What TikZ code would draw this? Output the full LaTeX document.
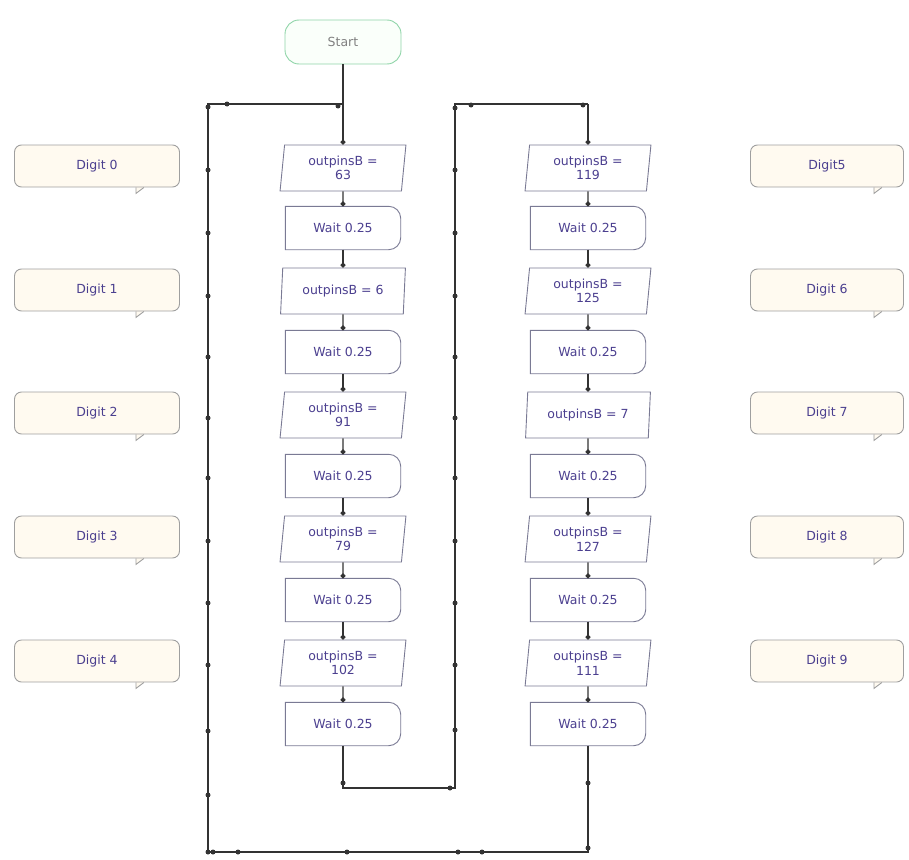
\documentclass[tikz,border=0pt]{standalone}
\usepackage{fontspec}
\setmainfont{DejaVu Sans}
\usetikzlibrary{shapes.geometric,arrows.meta}
\definecolor{txt}{HTML}{4B3F8F}
\definecolor{boxedge}{HTML}{7A7A94}
\definecolor{startedge}{HTML}{8FD4A8}
\definecolor{notefill}{HTML}{FFFAF0}
\definecolor{wire}{HTML}{333333}
\tikzset{
  boxline/.style={draw=boxedge,line width=0.9pt},
  outbox/.style={shape=trapezium,trapezium left angle=84,trapezium right angle=96,
    trapezium stretches=true,boxline,minimum width=126,minimum height=46,
    align=center,text=txt,inner sep=1pt},
  waitbox/.style={minimum width=115,minimum height=43,text=txt,
    append after command={\pgfextra{\draw[boxline] (\tikzlastnode.north west)
      -- ([xshift=-12pt]\tikzlastnode.north east) arc[start angle=90,end angle=0,radius=12pt]
      -- ([yshift=12pt]\tikzlastnode.south east) arc[start angle=0,end angle=-90,radius=12pt]
      -- (\tikzlastnode.south west) -- cycle;}}},
  comment/.style={draw=gray!75,line width=0.9pt,fill=notefill,rounded corners=7pt,
    minimum height=42,text=txt,
    append after command={\pgfextra{
      \fill[notefill] ([xshift=-#1,yshift=1pt]\tikzlastnode.south east) -- ++(0,-7pt) -- ++(8pt,7pt) -- cycle;
      \draw[gray!75,line width=0.9pt] ([xshift=-#1]\tikzlastnode.south east) -- ++(0,-6pt) -- ++(8pt,6pt);}}},
  wireline/.style={draw=wire,line width=1.1pt},
  link/.style={wireline,-{Circle[length=5pt]}}
}
\begin{document}
\begin{tikzpicture}[x=1pt,y=-1pt,every node/.style={font=\fontsize{12.5}{14.5}\selectfont}]
\useasboundingbox (0,0) rectangle (909,859);
% start
\node[draw=startedge,line width=0.9pt,fill=green!2,rounded corners=14pt,minimum width=116,minimum height=44,text=gray] (start) at (343,42) {Start};
% left column
\node[outbox] (out0) at (343,168) {outpinsB =\\63};
\node[waitbox] (wait0) at (343,228) {Wait 0.25};
\node[outbox] (out1) at (343,291) {outpinsB = 6};
\node[waitbox] (wait1) at (343,352) {Wait 0.25};
\node[outbox] (out2) at (343,415) {outpinsB =\\91};
\node[waitbox] (wait2) at (343,476) {Wait 0.25};
\node[outbox] (out3) at (343,539) {outpinsB =\\79};
\node[waitbox] (wait3) at (343,600) {Wait 0.25};
\node[outbox] (out4) at (343,663) {outpinsB =\\102};
\node[waitbox] (wait4) at (343,724) {Wait 0.25};
% right column
\node[outbox] (out5) at (588,168) {outpinsB =\\119};
\node[waitbox] (wait5) at (588,228) {Wait 0.25};
\node[outbox] (out6) at (588,291) {outpinsB =\\125};
\node[waitbox] (wait6) at (588,352) {Wait 0.25};
\node[outbox] (out7) at (588,415) {outpinsB = 7};
\node[waitbox] (wait7) at (588,476) {Wait 0.25};
\node[outbox] (out8) at (588,539) {outpinsB =\\127};
\node[waitbox] (wait8) at (588,600) {Wait 0.25};
\node[outbox] (out9) at (588,663) {outpinsB =\\111};
\node[waitbox] (wait9) at (588,724) {Wait 0.25};
% comments
\node[comment=44pt,minimum width=165] (digit0) at (97,166) {Digit 0};
\node[comment=44pt,minimum width=165] (digit1) at (97,290) {Digit 1};
\node[comment=44pt,minimum width=165] (digit2) at (97,413) {Digit 2};
\node[comment=44pt,minimum width=165] (digit3) at (97,537) {Digit 3};
\node[comment=44pt,minimum width=165] (digit4) at (97,661) {Digit 4};
\node[comment=30pt,minimum width=153] (digit5) at (827,166) {Digit5};
\node[comment=30pt,minimum width=153] (digit6) at (827,290) {Digit 6};
\node[comment=30pt,minimum width=153] (digit7) at (827,413) {Digit 7};
\node[comment=30pt,minimum width=153] (digit8) at (827,537) {Digit 8};
\node[comment=30pt,minimum width=153] (digit9) at (827,661) {Digit 9};
% loop corners
\coordinate (tl) at (208,104);
\coordinate (jl) at (343,104);
\coordinate (bl) at (208,852);
\coordinate (br) at (588,852);
\coordinate (il) at (343,788);
\coordinate (ir) at (455,788);
\coordinate (ri) at (455,104);
\coordinate (rt) at (588,104);
% chain
\draw[link] (start) -- (out0);
\draw[link] (out0) -- (wait0);
\draw[link] (wait0) -- (out1);
\draw[link] (out1) -- (wait1);
\draw[link] (wait1) -- (out2);
\draw[link] (out2) -- (wait2);
\draw[link] (wait2) -- (out3);
\draw[link] (out3) -- (wait3);
\draw[link] (wait3) -- (out4);
\draw[link] (out4) -- (wait4);
\draw[link] (rt) -- (out5);
\draw[link] (out5) -- (wait5);
\draw[link] (wait5) -- (out6);
\draw[link] (out6) -- (wait6);
\draw[link] (wait6) -- (out7);
\draw[link] (out7) -- (wait7);
\draw[link] (wait7) -- (out8);
\draw[link] (out8) -- (wait8);
\draw[link] (wait8) -- (out9);
\draw[link] (out9) -- (wait9);
% loops
\draw[wireline] (wait4) -- (il) -- (ir) -- (ri) -- (rt);
\draw[wireline] (wait9) -- (br) -- (bl) -- (tl) -- (jl);
% junction dots
\foreach \y in {107,170,233,296,357,418,478,541,603,665,731,795,852}
  \fill[wire] (208,\y) circle (2.5);
\foreach \y in {108,170,233,296,357,418,478,541,603,665,730}
  \fill[wire] (455,\y) circle (2.5);
\foreach \x in {213,238,347,458,482}
  \fill[wire] (\x,852) circle (2.5);
\foreach \p in {(227,104),(338,106),(471,105),(583,105),(343,783),(450,788),(588,783),(588,848)}
  \fill[wire] \p circle (2.5);
\end{tikzpicture}
\end{document}
